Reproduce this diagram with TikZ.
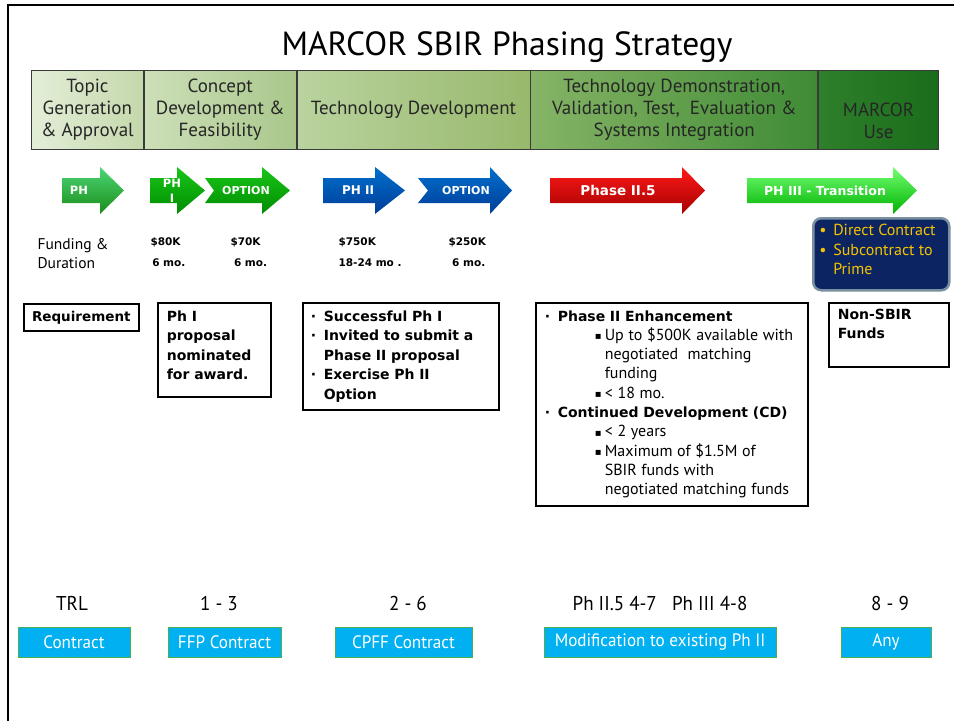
\documentclass[tikz,border=0pt]{standalone}
\usepackage{fontspec}
\setmainfont{PT Sans}
\newfontfamily\verdana{DejaVu Sans}
\newfontfamily\narrowsans{PT Sans}[FakeStretch=0.95]
\usetikzlibrary{positioning}

\definecolor{hdrline}{HTML}{3A3A3A}
\definecolor{hdrAa}{HTML}{E3EED8}
\definecolor{hdrAb}{HTML}{C4D8AB}
\definecolor{hdrBa}{HTML}{CDDFB8}
\definecolor{hdrBb}{HTML}{A9C78B}
\definecolor{hdrCa}{HTML}{BAD39F}
\definecolor{hdrCb}{HTML}{98B96C}
\definecolor{hdrDa}{HTML}{86B466}
\definecolor{hdrDb}{HTML}{3F8B35}
\definecolor{hdrEa}{HTML}{2F7F2B}
\definecolor{hdrEb}{HTML}{1B6D1B}
\definecolor{navy}{HTML}{0C2461}
\definecolor{navyline}{HTML}{7890A0}
\definecolor{gold}{HTML}{F5C400}
\definecolor{cyanbox}{HTML}{00B0F0}
\definecolor{cyanline}{HTML}{4CAF50}

\newcommand{\bul}{\makebox[13pt][l]{·}}
\newcommand{\sqb}{\hspace*{50pt}\makebox[10pt][l]{\raisebox{0.5pt}{\verdana\mdseries\fontsize{10}{10}\selectfont ▪}}}
\newcommand{\sqc}{\hspace*{60pt}}
\newcommand{\reg}{\normalfont\fontsize{16}{19.3}\selectfont}

\begin{document}
\begin{tikzpicture}[x=1pt,y=-1pt,
    hdr/.style={draw=hdrline, line width=0.8pt, minimum height=79, align=center,
      text=black!85, font=\fontsize{19}{22}\selectfont},
    arrowtext/.style={text=white, font=\verdana\bfseries\fontsize{11.5}{13}\selectfont},
    money/.style={anchor=west, align=left, font=\verdana\bfseries\fontsize{10.5}{21}\selectfont},
    infobox/.style={draw, line width=1.6pt, anchor=north west, align=left,
      font=\verdana\bfseries\fontsize{14}{19.5}\selectfont},
    trl/.style={font=\narrowsans\fontsize{20}{22}\selectfont},
    cbox/.style={draw=cyanline, line width=0.6pt, fill=cyanbox, text=white, minimum height=30,
      font=\narrowsans\fontsize{18}{20}\selectfont}]
\useasboundingbox (0,0) rectangle (954,721);

% frame
\draw[line width=2pt] (8,721) -- (8,5) -- (954,5);

\node[font=\fontsize{33.5}{38}\selectfont] (title) at (507,47) {MARCOR SBIR Phasing Strategy};

% phase headers
\node[hdr, minimum width=112, left color=hdrAa, right color=hdrAb, anchor=north west] (topic) at (31,70) {Topic\\Generation\\\& Approval};
\node[hdr, minimum width=152, left color=hdrBa, right color=hdrBb, right=0pt of topic] (concept) {Concept\\Development \&\\Feasibility};
\node[hdr, minimum width=233, left color=hdrCa, right color=hdrCb, right=0pt of concept] (techdev) {Technology Development};
\node[hdr, minimum width=287, left color=hdrDa, right color=hdrDb, right=0pt of techdev] (demo) {Technology Demonstration,\\Validation, Test,\ \ Evaluation \&\\Systems Integration};
\node[hdr, minimum width=120, left color=hdrEa, right color=hdrEb, right=0pt of demo] (use) {\mbox{}\\[14pt]MARCOR\\Use};

% phase arrows
\shade[top color=green!55!teal!70, bottom color=green!50!black!90] (62,178) -- (100,178) -- (100,167) -- (124,190.5) -- (100,214) -- (100,203) -- (62,203) -- cycle;
\shade[top color=green!75!black!90, bottom color=green!55!black] (150,178) -- (177,178) -- (177,167) -- (205,190.5) -- (177,214) -- (177,203) -- (150,203) -- cycle;
\shade[top color=green!75!black!90, bottom color=green!55!black] (205,178) -- (262,178) -- (262,167) -- (290,190.5) -- (262,214) -- (262,203) -- (205,203) -- (214,190.5) -- cycle;
\shade[top color=blue!45!cyan!80!black, bottom color=blue!60!cyan!60!black] (323,178) -- (375,178) -- (375,167) -- (405,190.5) -- (375,214) -- (375,203) -- (323,203) -- cycle;
\shade[top color=blue!45!cyan!80!black, bottom color=blue!60!cyan!60!black] (418,178) -- (490,178) -- (490,167) -- (512,190.5) -- (490,214) -- (490,203) -- (418,203) -- (428,190.5) -- cycle;
\shade[top color=red!90!white, bottom color=red!65!black] (550,178) -- (682,178) -- (682,167) -- (705,190.5) -- (682,214) -- (682,203) -- (550,203) -- cycle;
\shade[top color=green!55!white, bottom color=green!70!black] (747,178) -- (893,178) -- (893,167) -- (917,190.5) -- (893,214) -- (893,203) -- (747,203) -- cycle;

\node[arrowtext] (ph) at (79,190.5) {PH};
\node[arrowtext, align=center, font=\verdana\bfseries\fontsize{11.5}{15}\selectfont] (ph1) at (172,190.5) {PH\\I};
\node[arrowtext, font=\verdana\bfseries\fontsize{11}{13}\selectfont] (opt1) at (246,190.5) {OPTION};
\node[arrowtext, font=\verdana\bfseries\fontsize{12}{13}\selectfont] (ph2) at (358,190.5) {PH II};
\node[arrowtext, font=\verdana\bfseries\fontsize{11}{13}\selectfont] (opt2) at (466,190.5) {OPTION};
\node[arrowtext, font=\verdana\bfseries\fontsize{13.5}{15}\selectfont] (ph25) at (618,190.5) {Phase II.5};
\node[arrowtext, font=\verdana\bfseries\fontsize{12.5}{15}\selectfont] (ph3) at (825,190.5) {PH III - Transition};

% funding and duration
\node[anchor=west, align=left, font=\fontsize{15.5}{19}\selectfont] (funding) at (34,254) {Funding \&\\Duration};
\node[money] (fund1) at (147,252) {\$80K\\\,6 mo.};
\node[money] (fund2) at (227,252) {\$70K\\\,\,6 mo.};
\node[money] (fund3) at (335,252) {\$750K\\18-24 mo .};
\node[money] (fund4) at (445,252) {\$250K\\\ 6 mo.};

\node[draw=navyline, line width=2.5pt, fill=navy, rounded corners=8, text=gold, anchor=north west,
  inner xsep=6, inner ysep=6, font=\fontsize{16}{19.5}\selectfont] (routes) at (812,217)
  {\parbox[t][60pt][t]{124pt}{\makebox[14pt][l]{•}Direct Contract\\\makebox[14pt][l]{•}Subcontract to\\\hspace*{14pt}Prime}};

% conditions
\node[infobox, minimum width=115, minimum height=27, align=center, font=\verdana\bfseries\fontsize{13.5}{19.5}\selectfont] (req) at (23,303) {Requirement};
\node[infobox, inner xsep=9, inner ysep=6] (ph1box) at (157,302)
  {\parbox[t][82pt][t]{95pt}{\vspace*{2pt}Ph I\\proposal\\nominated\\for award.}};
\node[infobox, minimum height=107, text width=180, inner xsep=8] (ph2box) at (302,302)
  {\bul Successful Ph I\\\bul Invited to submit a\\\hspace*{13pt}Phase II proposal\\\bul Exercise Ph II\\\hspace*{13pt}Option};
\node[infobox, minimum height=203, text width=254, inner xsep=9, font=\verdana\bfseries\fontsize{14}{19.3}\selectfont] (ph25box) at (535,302)
  {\bul Phase II Enhancement\\
   {\reg\sqb Up to \$500K available with}\\
   {\reg\sqc negotiated\ \ matching}\\
   {\reg\sqc funding}\\
   {\reg\sqb < 18 mo.}\\
   \bul Continued Development (CD)\\
   {\reg\sqb < 2 years}\\
   {\reg\sqb Maximum of \$1.5M of}\\
   {\reg\sqc SBIR funds with}\\
   {\reg\sqc negotiated matching funds}};
\node[infobox, inner xsep=9, inner ysep=6] (nonsbir) at (828,302)
  {\parbox[t][52pt][t]{102pt}{Non-SBIR\\Funds}};

% readiness levels and contract types
\node[trl] (trl) at (72,603) {TRL};
\node[trl] (trl1) at (219,603) {1 - 3};
\node[trl] (trl2) at (408,603) {2 - 6};
\node[trl] (trl3) at (660,603) {Ph II.5 4-7\ \ \ Ph III 4-8};
\node[trl] (trl4) at (890,603) {8 - 9};

\node[cbox, minimum width=112] (con0) at (74,642) {Contract};
\node[cbox, minimum width=113] (con1) at (224.5,642) {FFP Contract};
\node[cbox, minimum width=137] (con2) at (403.5,642) {CPFF Contract};
\node[cbox, minimum width=232] (con3) at (660,642) {Modification to existing Ph II};
\node[cbox, minimum width=90] (con4) at (886,642) {Any};
\end{tikzpicture}
\end{document}
